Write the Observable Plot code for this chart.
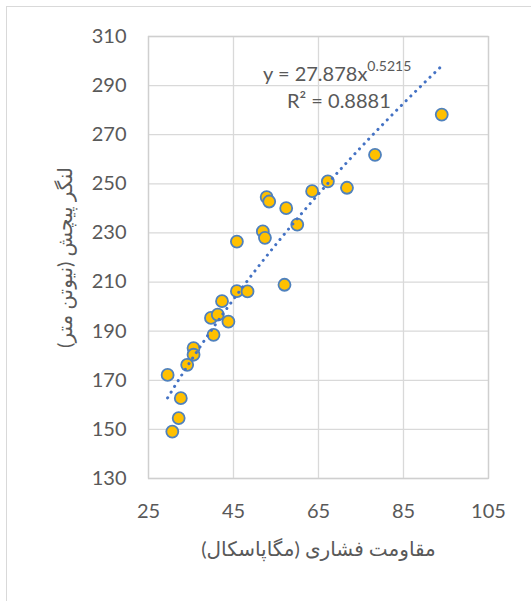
<!DOCTYPE html>
<html><head><meta charset="utf-8">
<script src="https://cdn.jsdelivr.net/npm/d3@7"></script>
<script src="https://cdn.jsdelivr.net/npm/@observablehq/plot@0.6"></script>
<style>
body{margin:0;background:#fff;}
#wrap{position:relative;width:531px;height:601px;overflow:hidden;font-family:Lato,"DejaVu Sans",sans-serif;}
#border{position:absolute;left:6px;top:6px;width:600px;height:700px;border:1.5px solid #d9d9d9;}
#wrap svg{position:absolute;left:0;top:0;}
.eq{position:absolute;color:#595959;font-size:20px;line-height:24px;white-space:nowrap;}
.eq sup{font-size:14px;position:relative;top:-2px;vertical-align:top;line-height:14px;}
</style></head><body><div id="wrap"><div id="border"></div></div>
<script>
const compressive = [94.0, 78.3, 67.2, 71.7, 63.5, 52.8, 53.4, 57.4, 60.0, 51.9, 52.4, 45.8, 57.0, 45.8, 48.3, 42.3, 39.7, 41.3, 43.8, 40.3, 35.6, 35.6, 34.1, 29.5, 32.6, 32.1, 30.6];
const torque      = [278.2, 261.8, 251.0, 248.4, 247.0, 244.6, 242.8, 240.1, 233.4, 230.6, 228.0, 226.5, 208.9, 206.3, 206.2, 202.2, 195.4, 196.7, 193.9, 188.5, 183.1, 180.4, 176.3, 172.2, 162.7, 154.6, 149.1];
const xTicks = [25, 45, 65, 85, 105];
const yTicks = [130, 150, 170, 190, 210, 230, 250, 270, 290, 310];
const trendA = 27.878, trendB = 0.5215;
const xLabel = "مقاومت فشاری (مگاپاسکال)";
const yLabel = "لنگر پیچش (نیوتن متر)";

const data = compressive.map((x, i) => ({x, y: torque[i]}));
const xmin = d3.min(compressive), xmax = d3.max(compressive);
const trend = d3.range(xmin, xmax + 0.001, (xmax - xmin) / 200).map(x => ({x, y: trendA * Math.pow(x, trendB)}));

const grid = "#d9d9d9";
const chart = Plot.plot({
  width: 531, height: 601,
  marginLeft: 148, marginRight: 43, marginTop: 36, marginBottom: 123,
  x: {domain: [25, 105]},
  y: {domain: [130, 310]},
  style: {fontFamily: 'Lato, "DejaVu Sans", sans-serif', fontSize: "20px", color: "#595959", background: "transparent"},
  marks: [
    Plot.gridX(xTicks, {stroke: grid, strokeOpacity: 1, strokeWidth: 1.3}),
    Plot.gridY(yTicks, {stroke: grid, strokeOpacity: 1, strokeWidth: 1.3}),
    Plot.frame({stroke: "#cfcfcf", strokeWidth: 1.3}),
    Plot.axisX(xTicks, {tickSize: 0, tickPadding: 25, fontSize: 20, label: xLabel, labelAnchor: "center", labelOffset: 77, labelArrow: "none"}),
    Plot.axisY(yTicks, {tickSize: 0, tickPadding: 22, fontSize: 20, label: yLabel, labelAnchor: "center", labelOffset: 91, labelArrow: "none"}),
    Plot.dot(data, {x: "x", y: "y", r: 6, fill: "#FFC000", stroke: "#4F81BD", strokeWidth: 1.8}),
    Plot.line(trend, {x: "x", y: "y", stroke: "#4472C4", strokeWidth: 3, strokeDasharray: "0.1 6.6", strokeLinecap: "round"})
  ]
});
const wrap = document.getElementById("wrap");
wrap.appendChild(chart);

const eq1 = document.createElement("div");
eq1.className = "eq";
eq1.style.left = "263px"; eq1.style.top = "61px";
eq1.innerHTML = `y = ${trendA}x<sup>${trendB}</sup>`;
wrap.appendChild(eq1);
const eq2 = document.createElement("div");
eq2.className = "eq";
eq2.style.left = "287px"; eq2.style.top = "88px";
eq2.textContent = "R² = 0.8881";
wrap.appendChild(eq2);
</script>
</body></html>
